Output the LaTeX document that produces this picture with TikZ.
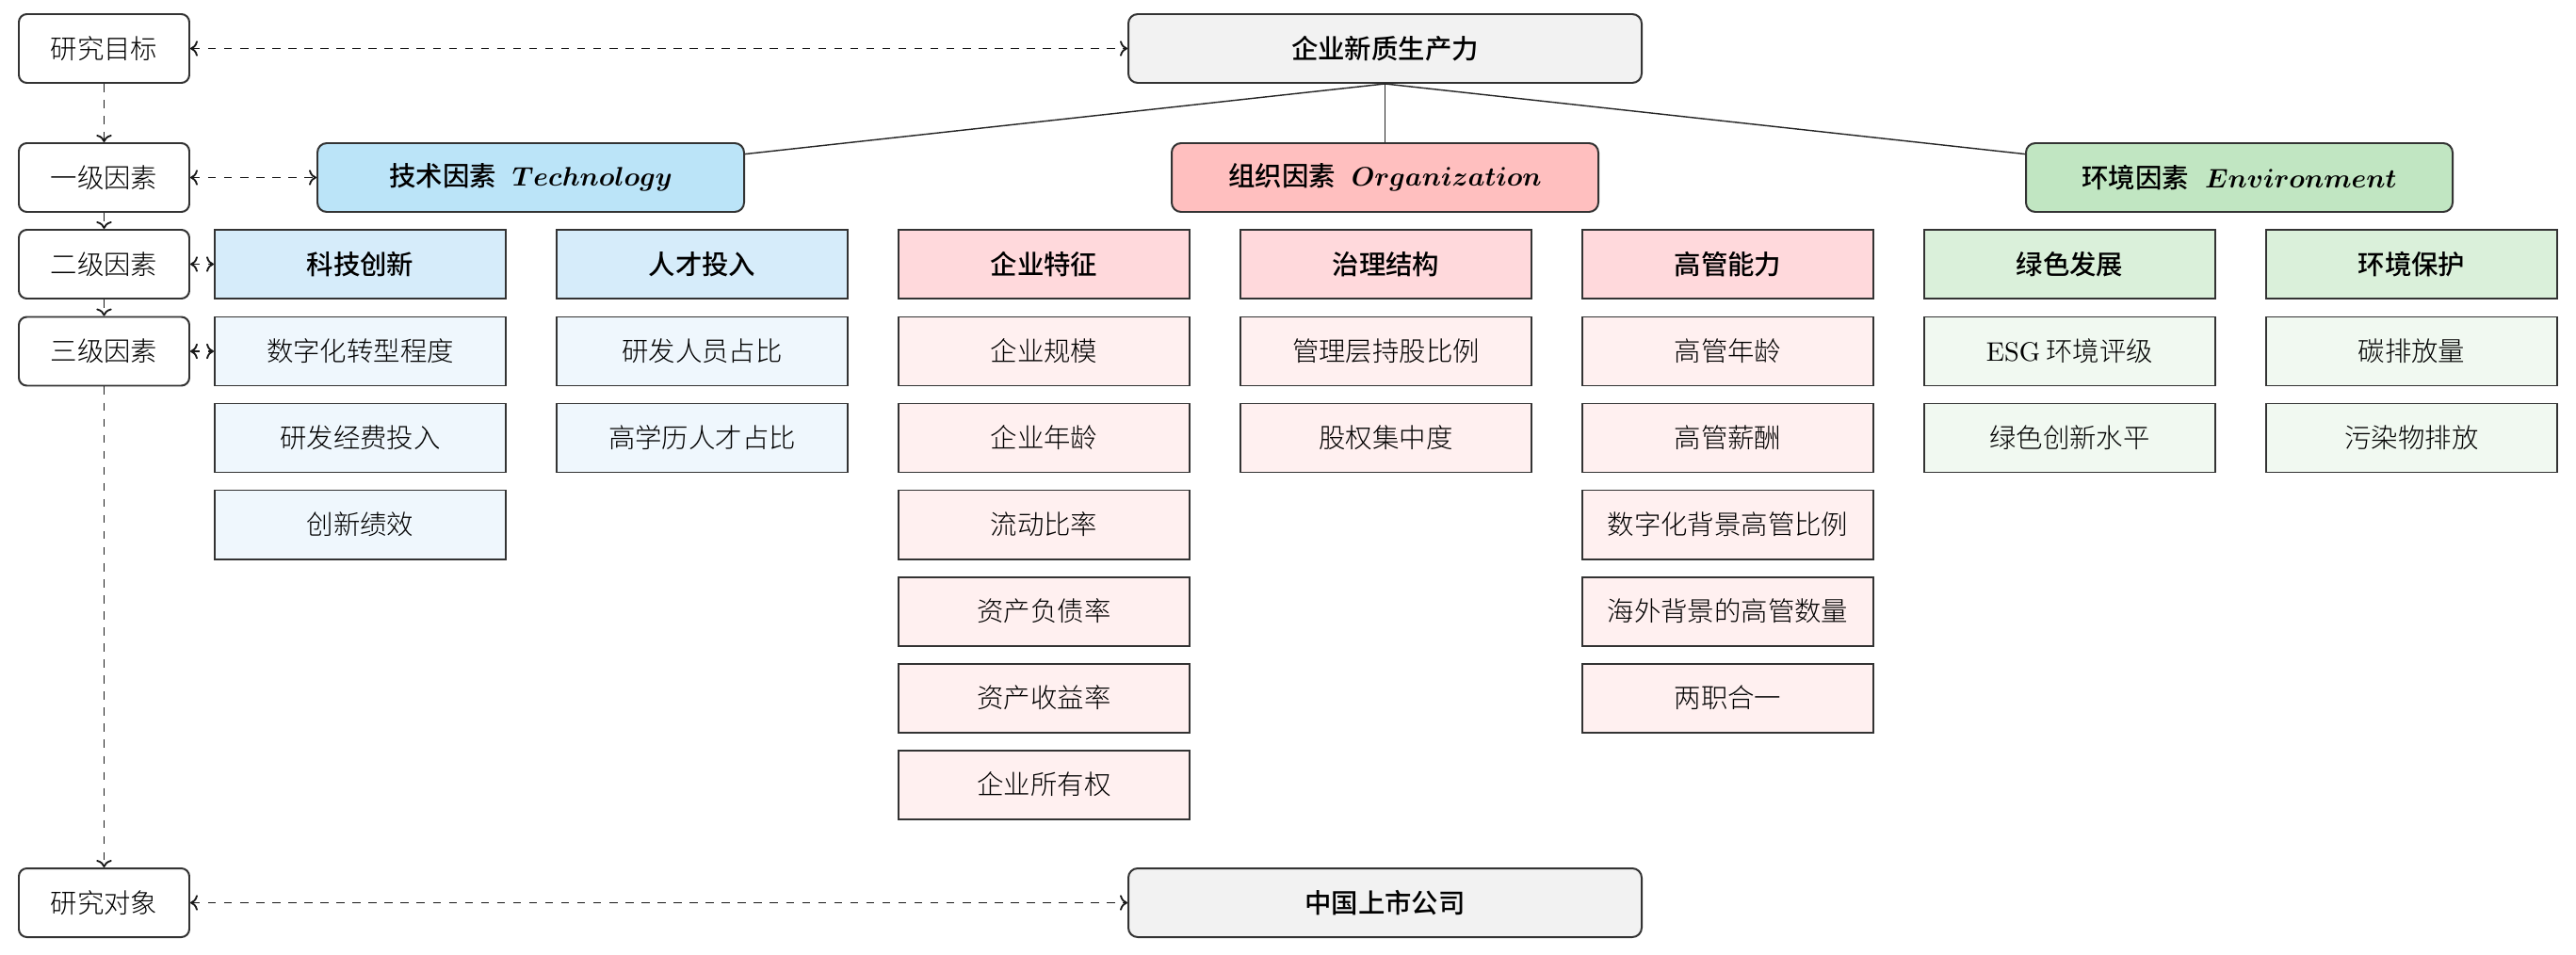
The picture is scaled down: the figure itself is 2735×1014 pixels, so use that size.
\documentclass[tikz,border=0pt]{standalone}
\usepackage{fontspec}
\usetikzlibrary{arrows.meta}
\newfontfamily\cjkm{Noto Sans CJK SC Medium}
\newfontfamily\cjkl{Noto Sans CJK SC Light}
\newcommand\pxu{0.352pt}
\definecolor{mainfill}{RGB}{242,242,242}
\definecolor{techA}{RGB}{187,228,248}
\definecolor{techB}{RGB}{214,236,250}
\definecolor{techC}{RGB}{239,247,253}
\definecolor{orgA}{RGB}{255,191,191}
\definecolor{orgB}{RGB}{255,217,220}
\definecolor{orgC}{RGB}{255,240,240}
\definecolor{envA}{RGB}{193,230,194}
\definecolor{envB}{RGB}{218,240,218}
\definecolor{envC}{RGB}{241,249,241}
\tikzset{
  base/.style={draw=black!80, line width=0.7pt, minimum height=73*\pxu, inner sep=0pt, align=center},
  lab/.style={base, rounded corners=3pt, fill=white, minimum width=181*\pxu, font=\fontsize{10}{12}\selectfont\cjkl},
  topbox/.style={base, rounded corners=3.5pt, fill=mainfill, minimum width=545*\pxu, font=\fontsize{10}{12}\selectfont\cjkm},
  lone/.style={base, rounded corners=3.5pt, minimum width=453*\pxu, font=\fontsize{10}{12}\selectfont\cjkm\boldmath},
  ltwo/.style={base, minimum width=309*\pxu, font=\fontsize{10}{12}\selectfont\cjkm},
  lthree/.style={base, minimum width=309*\pxu, font=\fontsize{10}{12}\selectfont\cjkl},
  link/.style={line width=0.5pt, draw=black!85},
  dlink/.style={dashed, line width=0.65pt, draw=black!90, >={To[length=2.8pt, width=5.8pt]}}
}
\begin{document}
\begin{tikzpicture}[x=0.352pt, y=-0.352pt]
\useasboundingbox (0,0) rectangle (2735,1014);
% left labels
\node[lab] (goal) at (110.5,51.5) {研究目标};
\node[lab] (lvone) at (110.5,188.5) {一级因素};
\node[lab] (lvtwo) at (110.5,280.5) {二级因素};
\node[lab] (lvthree) at (110.5,373) {三级因素};
\node[lab] (obj) at (110.5,958.5) {研究对象};
% top and bottom
\node[topbox] (main) at (1470.5,51.5) {企业新质生产力};
\node[topbox] (china) at (1470.5,958.5) {中国上市公司};
% level one
\node[lone, fill=techA] (tech) at (563.5,188.5) {技术因素\hspace{0.6em}$Technology$};
\node[lone, fill=orgA] (org) at (1470.5,188.5) {组织因素\hspace{0.6em}$Organization$};
\node[lone, fill=envA] (env) at (2377.5,188.5) {环境因素\hspace{0.6em}$Environment$};
% column 0
\node[ltwo, fill=techB] (a0) at (382.5,280.5) {科技创新};
\node[lthree, fill=techC] (a1) at (382.5,373) {数字化转型程度};
\node[lthree, fill=techC] (a2) at (382.5,465) {研发经费投入};
\node[lthree, fill=techC] (a3) at (382.5,557) {创新绩效};
% column 1
\node[ltwo, fill=techB] (b0) at (745.5,280.5) {人才投入};
\node[lthree, fill=techC] (b1) at (745.5,373) {研发人员占比};
\node[lthree, fill=techC] (b2) at (745.5,465) {高学历人才占比};
% column 2
\node[ltwo, fill=orgB] (c0) at (1108.5,280.5) {企业特征};
\node[lthree, fill=orgC] (c1) at (1108.5,373) {企业规模};
\node[lthree, fill=orgC] (c2) at (1108.5,465) {企业年龄};
\node[lthree, fill=orgC] (c3) at (1108.5,557) {流动比率};
\node[lthree, fill=orgC] (c4) at (1108.5,649) {资产负债率};
\node[lthree, fill=orgC] (c5) at (1108.5,741) {资产收益率};
\node[lthree, fill=orgC] (c6) at (1108.5,833) {企业所有权};
% column 3
\node[ltwo, fill=orgB] (d0) at (1471.5,280.5) {治理结构};
\node[lthree, fill=orgC] (d1) at (1471.5,373) {管理层持股比例};
\node[lthree, fill=orgC] (d2) at (1471.5,465) {股权集中度};
% column 4
\node[ltwo, fill=orgB] (e0) at (1834.5,280.5) {高管能力};
\node[lthree, fill=orgC] (e1) at (1834.5,373) {高管年龄};
\node[lthree, fill=orgC] (e2) at (1834.5,465) {高管薪酬};
\node[lthree, fill=orgC] (e3) at (1834.5,557) {数字化背景高管比例};
\node[lthree, fill=orgC] (e4) at (1834.5,649) {海外背景的高管数量};
\node[lthree, fill=orgC] (e5) at (1834.5,741) {两职合一};
% column 5
\node[ltwo, fill=envB] (f0) at (2197.5,280.5) {绿色发展};
\node[lthree, fill=envC] (f1) at (2197.5,373) {{\rmfamily ESG} 环境评级};
\node[lthree, fill=envC] (f2) at (2197.5,465) {绿色创新水平};
% column 6
\node[ltwo, fill=envB] (g0) at (2560.5,280.5) {环境保护};
\node[lthree, fill=envC] (g1) at (2560.5,373) {碳排放量};
\node[lthree, fill=envC] (g2) at (2560.5,465) {污染物排放};
% tree links
\draw[link] (main.south) -- (tech);
\draw[link] (main.south) -- (org.north);
\draw[link] (main.south) -- (env);
% dashed guides
\draw[dlink, <->] (goal) -- (main);
\draw[dlink, <->] (lvone) -- (tech);
\draw[dlink, <->] (lvtwo) -- (a0);
\draw[dlink, <->] (lvthree) -- (a1);
\draw[dlink, <->] (obj) -- (china);
\draw[dlink, ->] (goal) -- (lvone);
\draw[dlink, ->] (lvone) -- (lvtwo);
\draw[dlink, ->] (lvtwo) -- (lvthree);
\draw[dlink, ->] (lvthree) -- (obj);
\end{tikzpicture}
\end{document}
